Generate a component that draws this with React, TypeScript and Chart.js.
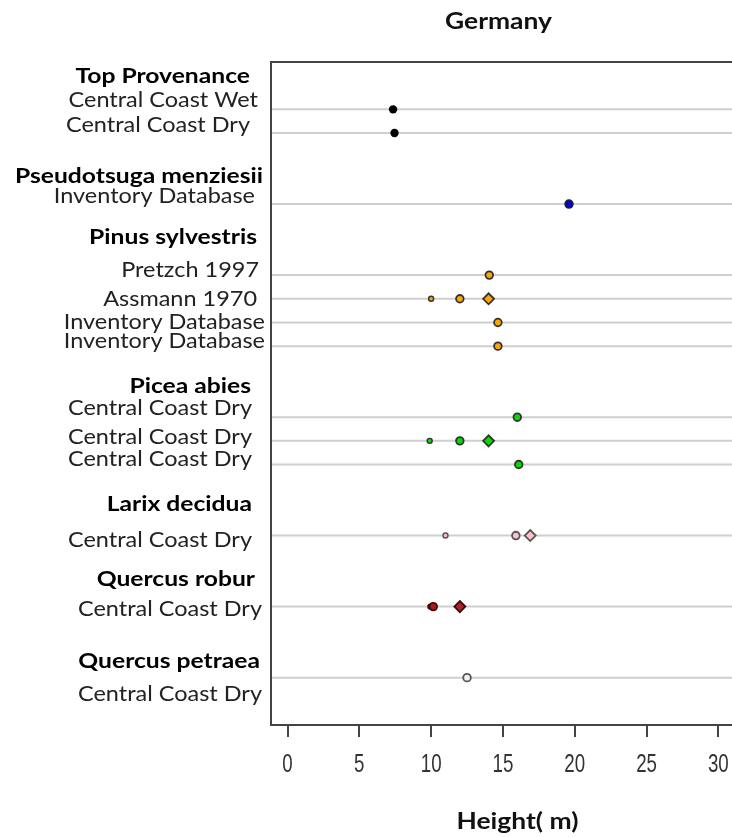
import { useEffect, useRef } from "react";
import { Chart, registerables } from "chart.js";

Chart.register(...registerables);

const chartTitle = "Germany";
const axisTitle = "Height( m)";
const xTicks = [0, 5, 10, 15, 20, 25, 30];

// Rows carrying a guide line, on the vertical scale (0 at the top)
const rowPositions = [2, 3, 6, 9, 10, 11, 12, 15, 16, 17, 20, 23, 26];

// Left-hand labels
const labelTexts = [
  "Top Provenance", "Central Coast Wet", "Central Coast Dry",
  "Pseudotsuga menziesii", "Inventory Database",
  "Pinus sylvestris", "Pretzch 1997", "Assmann 1970", "Inventory Database", "Inventory Database",
  "Picea abies", "Central Coast Dry", "Central Coast Dry", "Central Coast Dry",
  "Larix decidua", "Central Coast Dry",
  "Quercus robur", "Central Coast Dry",
  "Quercus petraea", "Central Coast Dry",
];
const labelIsHeading = [
  true, false, false,
  true, false,
  true, false, false, false, false,
  true, false, false, false,
  true, false,
  true, false,
  true, false,
];
const labelRows = [
  0.56, 1.59, 2.63,
  4.78, 5.63,
  7.39, 8.77, 9.99, 10.97, 11.75,
  13.68, 14.6, 15.83, 16.74,
  18.64, 20.19,
  21.8, 23.1,
  25.28, 26.69,
];

// Series: heights (m) and the row each one sits on
const provenanceHeights = [7.35, 7.45];
const provenanceRows = [2, 3];
const douglasHeights = [19.6];
const douglasRows = [6];
const pineHeights = [14.05, 12.0, 14.65, 14.65];
const pineRows = [9, 10, 11, 12];
const pineSmallHeights = [10.0];
const pineSmallRows = [10];
const pineDiamondHeights = [14.0];
const pineDiamondRows = [10];
const spruceHeights = [16.0, 12.0, 16.1];
const spruceRows = [15, 16, 17];
const spruceSmallHeights = [9.9];
const spruceSmallRows = [16];
const spruceDiamondHeights = [14.0];
const spruceDiamondRows = [16];
const larchHeights = [15.9];
const larchRows = [20];
const larchSmallHeights = [11.0];
const larchSmallRows = [20];
const larchDiamondHeights = [16.9];
const larchDiamondRows = [20];
const oakHeights = [10.15];
const oakRows = [23];
const oakSmallHeights = [9.95];
const oakSmallRows = [23];
const oakDiamondHeights = [12.0];
const oakDiamondRows = [23];
const sessileOakHeights = [12.5];
const sessileOakRows = [26];

// Layout
const labelRightEdges = [250, 258, 250, 263, 255, 257, 259, 257, 265, 265, 251, 252, 252, 252, 252, 252, 255, 262, 260, 262];
const FONT = "Lato, 'Open Sans', sans-serif";
const TICK_FONT = "'Liberation Sans', Arial, sans-serif";

const pts = (xs: number[], ys: number[]) => xs.map((x, i) => ({ x, y: ys[i] }));

type Kind = "normal" | "small" | "diamond" | "solid";
function series(label: string, xs: number[], ys: number[], fill: string, edge: string, kind: Kind) {
  const look = {
    normal: { pointStyle: "circle", pointRadius: 3.8, pointBorderWidth: 1.8 },
    small: { pointStyle: "circle", pointRadius: 2.5, pointBorderWidth: 1.4 },
    diamond: { pointStyle: "rectRot", pointRadius: 5.5, pointBorderWidth: 1.8 },
    solid: { pointStyle: "circle", pointRadius: 4.2, pointBorderWidth: 0 },
  }[kind];
  return {
    label,
    data: pts(xs, ys),
    backgroundColor: fill,
    borderColor: edge,
    pointBackgroundColor: fill,
    pointBorderColor: edge,
    showLine: false,
    ...look,
  };
}

function condensed(ctx: CanvasRenderingContext2D, text: string, x: number, y: number, sx: number) {
  ctx.save();
  ctx.translate(x, y);
  ctx.scale(sx, 1);
  ctx.fillText(text, 0, 0);
  ctx.restore();
}

const framePlugin = {
  id: "frame",
  beforeDatasetsDraw(chart: any) {
    const { ctx, chartArea: a, scales } = chart;
    const y = scales.y;
    ctx.save();
    ctx.strokeStyle = "#cfcfcf";
    ctx.lineWidth = 2;
    rowPositions.forEach((r) => {
      const py = y.getPixelForValue(r);
      ctx.beginPath();
      ctx.moveTo(a.left, py);
      ctx.lineTo(a.right, py);
      ctx.stroke();
    });
    ctx.strokeStyle = "#444";
    ctx.lineWidth = 2;
    ctx.beginPath();
    ctx.moveTo(a.left, a.bottom);
    ctx.lineTo(a.left, a.top);
    ctx.lineTo(a.right, a.top);
    ctx.stroke();
    ctx.restore();
  },
  afterDraw(chart: any) {
    const { ctx, scales } = chart;
    const y = scales.y;
    const x = scales.x;
    ctx.save();
    ctx.textAlign = "right";
    ctx.textBaseline = "alphabetic";
    const size = 20.5;
    ctx.font = `${size}px ${FONT}`;
    const sxReg = 184 / ctx.measureText("Central Coast Dry").width;
    ctx.font = `bold ${size}px ${FONT}`;
    const sxBold = 248 / ctx.measureText("Pseudotsuga menziesii").width;
    const capHalf = size * 0.36;
    labelTexts.forEach((t, i) => {
      const bold = labelIsHeading[i];
      ctx.font = `${bold ? "bold " : ""}${size}px ${FONT}`;
      ctx.fillStyle = bold ? "#000" : "#222";
      condensed(ctx, t, labelRightEdges[i], y.getPixelForValue(labelRows[i]) + capHalf, bold ? sxBold : sxReg);
    });

    // tick labels in a tall, narrow face
    ctx.textAlign = "center";
    ctx.font = `26px ${TICK_FONT}`;
    ctx.fillStyle = "#333";
    xTicks.forEach((v) => {
      condensed(ctx, String(v), x.getPixelForValue(v), 771.5, 0.72);
    });

    // chart title and axis title
    const tSize = 22;
    ctx.font = `bold ${tSize}px ${FONT}`;
    ctx.fillStyle = "#111";
    const sxT = 107 / ctx.measureText(chartTitle).width;
    condensed(ctx, chartTitle, 498.5, 28.5, sxT);
    condensed(ctx, axisTitle, 517.5, 829, sxT);
    ctx.restore();
  },
};

export default function App() {
  const ref = useRef<HTMLCanvasElement>(null);
  useEffect(() => {
    if (!ref.current) return;
    const chart = new Chart(ref.current, {
      type: "scatter",
      data: {
        datasets: [
          series("Top Provenance", provenanceHeights, provenanceRows, "#000", "#000", "solid"),
          series("Pseudotsuga menziesii", douglasHeights, douglasRows, "#0000e0", "#1a1a3a", "normal"),
          series("Pinus sylvestris", pineHeights, pineRows, "#ffa500", "#333", "normal"),
          series("Pinus sylvestris small", pineSmallHeights, pineSmallRows, "#ffa500", "#333", "small"),
          series("Pinus sylvestris diamond", pineDiamondHeights, pineDiamondRows, "#ffa500", "#333", "diamond"),
          series("Picea abies", spruceHeights, spruceRows, "#00dd00", "#333", "normal"),
          series("Picea abies small", spruceSmallHeights, spruceSmallRows, "#00dd00", "#333", "small"),
          series("Picea abies diamond", spruceDiamondHeights, spruceDiamondRows, "#00dd00", "#333", "diamond"),
          series("Larix decidua", larchHeights, larchRows, "#ffc0cb", "#555", "normal"),
          series("Larix decidua small", larchSmallHeights, larchSmallRows, "#ffc0cb", "#555", "small"),
          series("Larix decidua diamond", larchDiamondHeights, larchDiamondRows, "#ffc0cb", "#555", "diamond"),
          series("Quercus robur", oakHeights, oakRows, "#a51c1c", "#3a0a0a", "normal"),
          series("Quercus robur small", oakSmallHeights, oakSmallRows, "#a51c1c", "#3a0a0a", "small"),
          series("Quercus robur diamond", oakDiamondHeights, oakDiamondRows, "#b22222", "#3a0a0a", "diamond"),
          series("Quercus petraea", sessileOakHeights, sessileOakRows, "#f2f2f2", "#555", "normal"),
        ] as any,
      },
      options: {
        animation: false,
        responsive: false,
        events: [],
        layout: { autoPadding: false, padding: { left: 271, top: 62, right: 0, bottom: 0 } },
        plugins: { legend: { display: false }, tooltip: { enabled: false }, title: { display: false } },
        scales: {
          x: {
            type: "linear",
            min: -1.15,
            max: 30.95,
            afterBuildTicks: (s: any) => {
              s.ticks = xTicks.map((v) => ({ value: v }));
            },
            afterFit: (s: any) => {
              s.height = 112;
              s.paddingLeft = 0;
              s.paddingRight = 0;
            },
            border: { display: true, color: "#444", width: 2 },
            grid: { drawOnChartArea: false, drawTicks: true, tickLength: 12, color: "#444", lineWidth: 2 },
            ticks: { display: false },
          },
          y: {
            type: "linear",
            display: false,
            reverse: true,
            min: 0,
            max: 28,
          },
        },
      },
      plugins: [framePlugin],
    });
    return () => chart.destroy();
  }, []);
  return (
    <div style={{ position: "absolute", left: 0, top: 0, width: 732, height: 837, background: "#fff" }}>
      <canvas ref={ref} width={732} height={837} style={{ display: "block" }} />
    </div>
  );
}
